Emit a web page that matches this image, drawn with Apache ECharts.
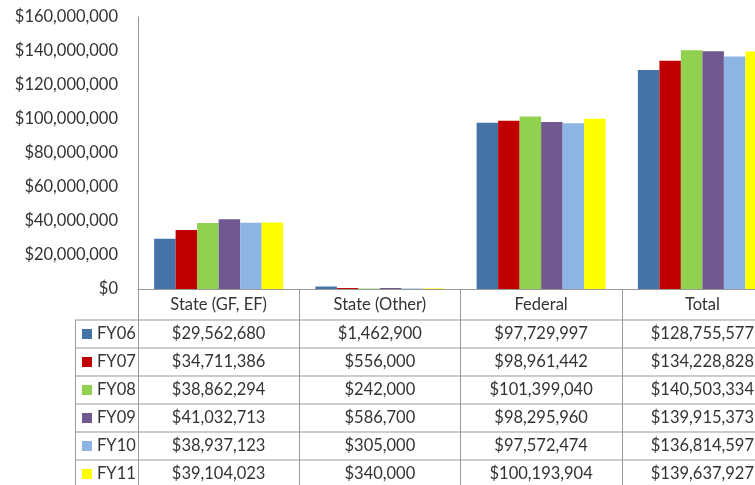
<!DOCTYPE html>
<html>
<head>
<meta charset="utf-8">
<script src="https://cdn.jsdelivr.net/npm/echarts@6/dist/echarts.min.js"></script>
<style>
  html, body { margin: 0; padding: 0; overflow: hidden; background: #fff; }
  #chart { width: 800px; height: 485px; }
</style>
</head>
<body>
<div id="chart"></div>
<script>
var categories = ["State (GF, EF)", "State (Other)", "Federal", "Total"];
var years = ["FY06", "FY07", "FY08", "FY09", "FY10", "FY11"];
var fy06 = [29562680, 1462900, 97729997, 128755577];
var fy07 = [34711386, 556000, 98961442, 134228828];
var fy08 = [38862294, 242000, 101399040, 140503334];
var fy09 = [41032713, 586700, 98295960, 139915373];
var fy10 = [38937123, 305000, 97572474, 136814597];
var fy11 = [39104023, 340000, 100193904, 139637927];
var colors = ["#4572A7", "#C00000", "#92D050", "#71588F", "#8DB4E2", "#FFFF00"];

var values = [fy06, fy07, fy08, fy09, fy10, fy11];
var font = "Lato";
var fs = 16.5;
var axisTop = 289;
var headH = 31;
var rowH = 28;

function money(v) {
  return "$" + v.toLocaleString("en-US");
}

var chart = echarts.init(document.getElementById("chart"));

// lines of the data table
var lines = [];
for (var i = 0; i < years.length; i++) {
  var y = axisTop + headH + i * rowH;
  lines.push({
    type: "line",
    shape: { x1: 75, y1: y, x2: 800, y2: y },
    style: { stroke: "#999", lineWidth: 1 },
  });
}
lines.push({
  type: "line",
  shape: { x1: 75.5, y1: axisTop + headH, x2: 75.5, y2: 485 },
  style: { stroke: "#999", lineWidth: 1 },
});

chart.setOption({
  animation: false,
  textStyle: { fontFamily: font },
  grid: { left: 138, right: 17, top: 17, bottom: 196 },
  legend: {
    orient: "vertical",
    left: 82,
    top: axisTop + headH,
    height: 220,
    padding: 0,
    itemGap: 0,
    itemWidth: 10,
    itemHeight: 10,
    icon: "rect",
    data: years,
    textStyle: { fontFamily: font, fontSize: fs, color: "#333", lineHeight: rowH },
  },
  xAxis: {
    type: "category",
    data: categories,
    axisLine: { lineStyle: { color: "#999" } },
    axisTick: { show: true, length: 196, lineStyle: { color: "#999" } },
    axisLabel: {
      interval: 0,
      margin: 0,
      formatter: function (name, idx) {
        var s = "{h|" + name + "}";
        for (var k = 0; k < values.length; k++) {
          s += "\n{v|" + money(values[k][idx]) + "}";
        }
        return s;
      },
      rich: {
        h: { fontFamily: font, fontSize: fs, color: "#333", lineHeight: headH },
        v: { fontFamily: font, fontSize: fs, color: "#333", lineHeight: rowH },
      },
    },
  },
  yAxis: {
    type: "value",
    min: 0,
    max: 160000000,
    interval: 20000000,
    axisLine: { show: true, lineStyle: { color: "#999" } },
    axisTick: { show: false },
    splitLine: { show: false },
    axisLabel: {
      margin: 20,
      fontFamily: font,
      fontSize: fs,
      color: "#333",
      formatter: money,
    },
  },
  series: years.map(function (name, k) {
    return {
      name: name,
      type: "bar",
      data: values[k],
      barGap: "0%",
      barCategoryGap: "20%",
      itemStyle: { color: colors[k] },
    };
  }),
  graphic: lines,
});
</script>
</body>
</html>
